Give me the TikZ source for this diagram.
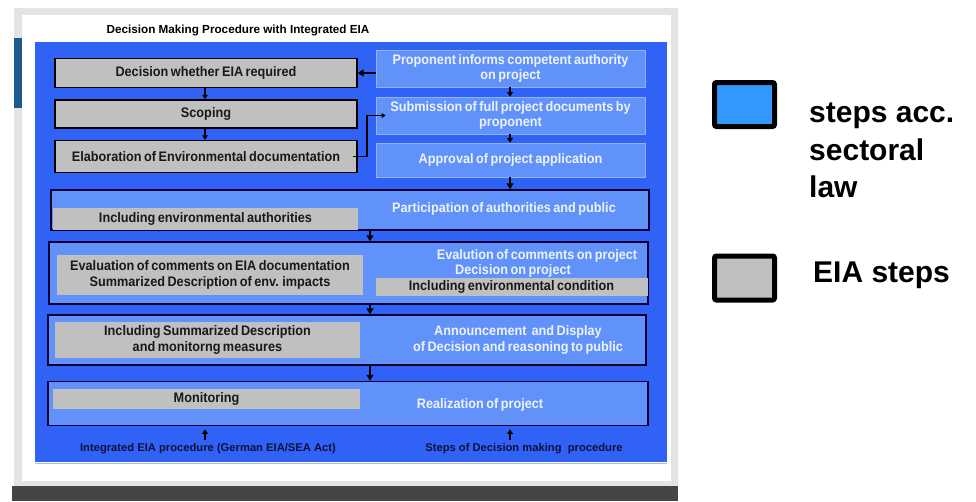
\documentclass[tikz,border=0pt]{standalone}
\usepackage{fontspec}
\setmainfont{Liberation Sans}
\newfontfamily\condfamily{Liberation Sans}[FakeStretch=0.92, WordSpace=0.7]
\usetikzlibrary{arrows.meta}

\definecolor{panel}{RGB}{48,98,245}
\definecolor{lblue}{RGB}{96,146,250}
\definecolor{eia}{RGB}{192,192,192}
\definecolor{legblue}{RGB}{51,153,255}
\definecolor{frame}{RGB}{228,228,228}
\definecolor{navy}{RGB}{16,16,60}
\definecolor{sidebar}{RGB}{30,90,140}
\definecolor{footbar}{RGB}{69,69,69}
\definecolor{panelrim}{RGB}{170,190,225}
\definecolor{paletext}{RGB}{238,242,255}

\newcommand\bxfont{\condfamily\bfseries\fontsize{13.8}{15.5}\selectfont}
\newcommand\lbfont{\bfseries\fontsize{11.2}{13}\selectfont}
\newcommand\lgfont{\bfseries\fontsize{30}{37.5}\selectfont}

\tikzset{
  eiabox/.style={draw=black, line width=1.4pt, fill=eia, text=black!90, font=\bxfont, inner sep=0pt},
  secbox/.style={draw=lblue!70!white, line width=0.6pt, fill=lblue, text=paletext, font=\bxfont, align=center, inner sep=0pt},
  rowbox/.style={draw=black!80!blue, line width=1.5pt, fill=lblue, inner sep=0pt},
  eiaband/.style={fill=eia, text=black!90, font=\bxfont, align=center, inner sep=0pt},
  sectext/.style={text=paletext, font=\bxfont, align=center, inner sep=0pt},
  arr/.style={-{Triangle[length=6pt,width=7pt]}, line width=1.5pt, black},
  smallarr/.style={-{Triangle[length=4.5pt,width=5.5pt]}, line width=1.2pt, black},
  legbox/.style={draw=black, line width=5pt, rounded corners=2pt, minimum width=60pt, minimum height=44pt},
}

\begin{document}
\begin{tikzpicture}[x=1pt,y=-1pt]
\useasboundingbox (0,0) rectangle (976,501);
\fill[white] (0,0) rectangle (976,501);

% slide frame
\fill[frame] (14,8) rectangle (678,486);
\fill[white] (22,15) rectangle (671,481);
\fill[sidebar] (14,38) rectangle (22,108);
\fill[footbar] (12,486) rectangle (678,501);

\node[font=\bfseries\fontsize{11.7}{13}\selectfont] (title) at (238,30) {Decision Making Procedure with Integrated EIA};

% blue panel
\fill[panel] (35,42) rectangle (667,462);
\draw[panelrim, line width=1.5pt] (35,463.5) -- (667,463.5);

% upper steps
\node[eiabox, minimum width=302pt, minimum height=29pt] (dec) at (206,73) {Decision whether EIA required};
\node[eiabox, minimum width=302pt, minimum height=28pt] (scop) at (206,114) {Scoping};
\node[eiabox, minimum width=302pt, minimum height=32pt] (elab) at (206,156.5) {Elaboration of Environmental documentation};

\node[secbox, minimum width=269pt, minimum height=37pt] (prop) at (510.5,68.5) {Proponent informs competent authority\\on project};
\node[secbox, minimum width=269pt, minimum height=37pt] (subm) at (510.5,115.5) {Submission of full project documents by\\proponent};
\node[secbox, minimum width=269pt, minimum height=34pt] (appr) at (510.5,160) {Approval of project application};

% combined rows
\node[rowbox, minimum width=598pt, minimum height=40pt] (row1) at (350,210) {};
\node[eiaband, minimum width=305pt, minimum height=22pt] (inc) at (205.5,219) {Including environmental authorities};
\node[sectext] (part) at (504,208.5) {Participation of authorities and public};

\node[rowbox, minimum width=599pt, minimum height=62pt] (row2) at (348.5,273) {};
\node[eiaband, minimum width=306pt, minimum height=40pt] (eval) at (210,275) {Evaluation of comments on EIA documentation\\Summarized Description of env. impacts};
\node[sectext] (evl) at (537,255.5) {Evalution of comments on project};
\node[sectext] (dcs) at (513,270.5) {Decision on project};
\node[eiaband, minimum width=272pt, minimum height=18pt] (cond) at (511.5,287) {Including environmental condition};

\node[rowbox, minimum width=598pt, minimum height=50pt] (row3) at (347,340) {};
\node[eiaband, minimum width=305pt, minimum height=36pt] (summ) at (207.5,340) {Including Summarized Description\\and monitorng measures};
\node[sectext] (ann) at (518,340) {Announcement\ \ and Display\\of Decision and reasoning to public};

\node[rowbox, minimum width=600pt, minimum height=44pt] (row4) at (348,403.5) {};
\node[eiaband, minimum width=307pt, minimum height=20pt] (mon) at (206.5,398.5) {Monitoring};
\node[sectext] (real) at (480,405) {Realization of project};

% bottom captions
\node[text=navy, font=\lbfont] (capl) at (208,449) {Integrated EIA procedure (German EIA/SEA Act)};
\node[text=navy, font=\lbfont] (capr) at (524,449) {Steps of Decision making\ \ procedure};

% connectors
\coordinate (xl) at (205,0);
\coordinate (xr) at (510,0);
\coordinate (xm) at (370,0);
\coordinate (xe) at (367,0);

\draw[arr] (prop.west |- dec) -- (dec.east);
\draw[smallarr] (prop.south -| xr) -- (subm.north -| xr);
\draw[smallarr] (subm.south -| xr) -- (appr.north -| xr);
\draw[arr] (appr.south -| xr) -- (row1.north -| xr);
\draw[smallarr] (dec.south -| xl) -- (scop.north -| xl);
\draw[smallarr] (scop.south -| xl) -- (elab.north -| xl);
\draw[-{Triangle[length=4pt,width=4.5pt]}, line width=1.1pt]
  ([xshift=-5pt]elab.east) -- (elab.east -| xe) |- ([xshift=10pt]subm.west);

\draw[arr] (row1.south -| xm) -- (row2.north -| xm);
\draw[arr] (row2.south -| xm) -- (row3.north -| xm);
\draw[arr] (row3.south -| xm) -- (row4.north -| xm);

\draw[smallarr] (capl.north -| xl) -- ([yshift=-3pt]row4.south -| xl);
\draw[smallarr] (capr.north -| xr) -- ([yshift=-3pt]row4.south -| xr);

% legend
\node[legbox, fill=legblue] (lgs) at (744.5,104.5) {};
\node[anchor=west, align=left, font=\lgfont, inner sep=0pt] (lgst) at (809,150.5) {steps acc.\\sectoral\\law};
\node[legbox, fill=eia] (lge) at (744.5,278) {};
\node[anchor=base west, font=\lgfont, inner sep=0pt] (lget) at (813,282) {EIA steps};
\end{tikzpicture}
\end{document}
